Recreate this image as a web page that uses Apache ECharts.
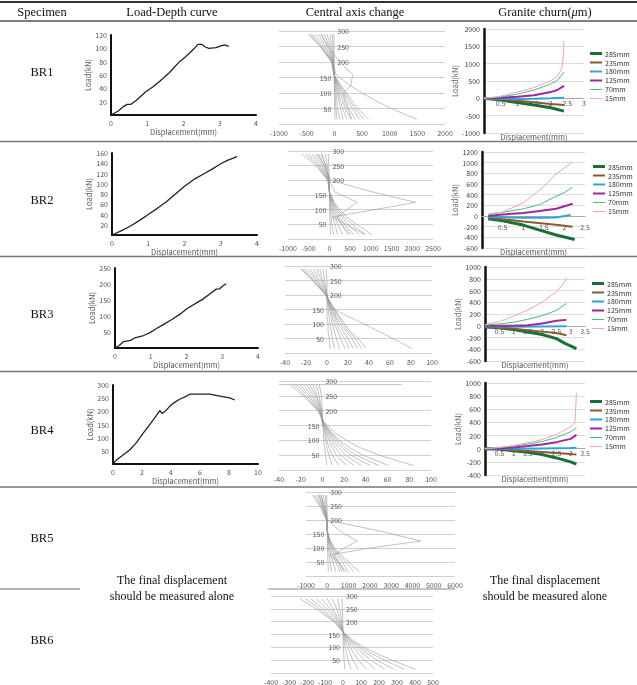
<!DOCTYPE html>
<html>
<head>
<meta charset="utf-8">
<script src="https://cdn.jsdelivr.net/npm/echarts@6/dist/echarts.min.js"></script>
<style>
  html, body { margin: 0; padding: 0; background: #fff; }
  #chart { width: 637px; height: 685px; }
  #chart svg { will-change: transform; }
</style>
</head>
<body>
<div id="chart"></div>
<script>
const specimens = ["BR1", "BR2", "BR3", "BR4", "BR5", "BR6"];
const gaugeNames = ["285mm", "235mm", "180mm", "125mm", "70mm", "15mm"];
const depthLevels = [290, 250, 200, 160, 125, 100, 75, 50, 15];

// load-depth curves: [displacement (mm), load (kN)]
const br1Load = [[0, 0], [0.2, 6], [0.35, 13], [0.45, 16], [0.55, 16], [0.7, 22], [0.96, 35], [1.15, 42], [1.33, 50], [1.6, 63], [1.89, 80], [2.05, 87], [2.17, 93], [2.3, 100], [2.4, 106], [2.5, 106], [2.6, 102], [2.7, 100], [2.9, 101], [3.05, 104], [3.15, 105], [3.25, 103]];
const br2Load = [[0, 0], [0.25, 8], [0.5, 17], [0.75, 28], [1, 40], [1.25, 52], [1.5, 65], [1.75, 80], [2, 95], [2.25, 108], [2.5, 118], [2.75, 128], [3, 139], [3.2, 146], [3.45, 153]];
const br3Load = [[0, 0], [0.12, 8], [0.24, 20], [0.35, 22], [0.43, 24], [0.56, 32], [0.8, 39], [0.98, 48], [1.15, 60], [1.35, 73], [1.6, 90], [1.81, 105], [2, 122], [2.28, 141], [2.45, 152], [2.65, 169], [2.83, 184], [2.93, 185], [3, 193], [3.11, 201]];
const br4Load = [[0, 0], [0.23, 15], [0.6, 30], [1.15, 53], [1.6, 80], [2.07, 116], [2.4, 140], [2.76, 167], [3, 185], [3.22, 203], [3.4, 192], [3.56, 199], [3.8, 212], [4, 224], [4.3, 236], [4.6, 246], [5, 256], [5.3, 265], [6, 265], [6.67, 265], [7.36, 258], [8.05, 251], [8.4, 243]];
const loadXMax = [4, 4, 4, 10];
const loadXStep = [1, 1, 1, 2];
const loadYMax = [120, 160, 250, 300];
const loadYStep = [20, 20, 50, 50];

// central axis change: displacement at each of depthLevels, one row per reading
const br1Axis = [
  [-470, -260, -50, -10, 120, 220, 320, 420, 620],
  [-410, -225, -45, -10, 100, 190, 280, 370, 540],
  [-350, -190, -40, -8, 85, 160, 240, 320, 460],
  [-290, -160, -35, -6, 70, 130, 200, 260, 380],
  [-230, -125, -30, -5, 55, 100, 150, 200, 300],
  [-180, -95, -25, -4, 40, 75, 110, 150, 230],
  [-130, -70, -20, -3, 30, 55, 80, 110, 160],
  [-80, -45, -15, -2, 15, 30, 45, 60, 100],
  [-40, -20, -10, -1, 5, 12, 20, 30, 45],
  [-10, -5, -3, 0, 0, 3, 5, 8, 12],
  [-250, -110, 100, 330, 300, 170, 180, 240, 320],
  [-440, -240, -40, 30, 280, 500, 750, 1030, 1490]
];
const br2Axis = [
  [-660, -330, -40, 0, 120, 250, 420, 650, 1030],
  [-580, -290, -35, 0, 100, 210, 350, 550, 870],
  [-500, -250, -30, 0, 85, 175, 290, 450, 720],
  [-420, -210, -25, 0, 70, 140, 230, 360, 580],
  [-340, -170, -20, 0, 55, 110, 180, 280, 450],
  [-260, -130, -15, 0, 40, 80, 130, 200, 320],
  [-180, -90, -10, 0, 25, 50, 85, 130, 200],
  [-100, -50, -5, 0, 12, 25, 40, 60, 100],
  [-30, -15, -2, 0, 3, 6, 10, 15, 25],
  [-300, -120, 30, 1050, 2080, 1090, 70, 400, 850],
  [-200, -90, 0, 130, 670, 420, 180, 300, 500]
];
const br3Axis = [
  [-25, -14, -1, 6, 12, 17, 22, 30, 37],
  [-22, -12, -1, 5, 11, 15, 20, 27, 33],
  [-19, -10, -1, 5, 9, 13, 18, 24, 29],
  [-16, -9, -1, 4, 8, 11, 15, 20, 25],
  [-13, -7, 0, 3, 7, 9, 12, 17, 21],
  [-10, -5, 0, 3, 5, 7, 10, 13, 17],
  [-7, -4, 0, 2, 4, 5, 7, 9, 12],
  [-4, -2, 0, 1, 2, 3, 4, 5, 7],
  [-1, 0, 0, 0, 0, 1, 1, 2, 3],
  [-24, -13, -1, 2, 21, 35, 49, 63, 81]
];
const br4Axis = [
  [-30, -18, -4, 2, 12, 22, 35, 52, 84],
  [-27, -16, -4, 1, 9, 16, 25, 37, 61],
  [-24, -14, -3, 1, 8, 14, 21, 31, 52],
  [-21, -12, -3, 1, 7, 12, 18, 26, 44],
  [-18, -10, -2, 1, 6, 10, 15, 21, 36],
  [-15, -8, -2, 0, 5, 8, 12, 17, 29],
  [-12, -6, -1, 0, 4, 6, 9, 13, 22],
  [-9, -5, -1, 0, 3, 4, 6, 9, 15],
  [-6, -3, -1, 0, 2, 3, 4, 6, 9],
  [-3, -1, 0, 0, 1, 1, 2, 3, 4]
];
const br5Axis = [
  [-700, -350, -40, 0, 150, 350, 650, 1000, 1500],
  [-600, -300, -35, 0, 130, 300, 550, 850, 1250],
  [-500, -250, -30, 0, 110, 250, 450, 700, 1000],
  [-400, -200, -25, 0, 90, 200, 350, 550, 800],
  [-300, -150, -20, 0, 70, 150, 260, 400, 600],
  [-200, -100, -15, 0, 50, 100, 170, 260, 400],
  [-100, -50, -10, 0, 25, 50, 90, 130, 200],
  [-30, -15, -3, 0, 5, 10, 20, 30, 50],
  [-400, -200, 0, 2500, 4400, 2000, 100, 500, 900],
  [-300, -150, 0, 600, 1400, 800, 300, 500, 700]
];
const br6Axis = [
  [-240, -150, -50, 0, 60, 120, 190, 270, 400],
  [-210, -130, -45, 0, 50, 100, 160, 230, 340],
  [-180, -110, -40, 0, 40, 85, 135, 190, 280],
  [-150, -90, -30, 0, 35, 70, 110, 155, 230],
  [-120, -70, -25, 0, 25, 55, 85, 120, 180],
  [-90, -55, -20, 0, 20, 40, 60, 85, 130],
  [-60, -35, -12, 0, 12, 25, 40, 55, 85],
  [-30, -18, -6, 0, 6, 12, 20, 28, 45],
  [-5, -3, -1, 0, 1, 2, 4, 6, 10]
];
const br4AxisTop = [[-40, 288], [73, 288]];
const axisXMin = [-1000, -1000, -40, -40, -1000, -400];
const axisXMax = [2000, 2500, 100, 100, 6000, 500];
const axisXStep = [500, 500, 20, 20, 1000, 100];

// granite churn: one list per gauge depth, [displacement (mm), value]
const br1Churn = [
  [[0, 0], [0.5, -50], [1, -120], [1.5, -190], [2, -270], [2.4, -370]],
  [[0, 0], [0.5, -30], [1, -70], [1.5, -115], [2, -160], [2.4, -195]],
  [[0, 0], [0.5, -10], [1, -20], [1.5, -15], [2, 0], [2.4, 20]],
  [[0, 0], [0.5, 20], [1, 45], [1.5, 90], [2, 180], [2.2, 240], [2.4, 360]],
  [[0, 0], [0.5, 40], [1, 120], [1.5, 240], [2, 410], [2.2, 520], [2.4, 760]],
  [[0, 0], [0.5, 60], [1, 180], [1.5, 310], [2, 500], [2.2, 650], [2.3, 800], [2.35, 950], [2.38, 1250], [2.4, 1650]]
];
const br2Churn = [
  [[0.15, -50], [0.5, -90], [1, -170], [1.4, -265], [1.8, -357], [2.25, -440]],
  [[0.15, -30], [0.5, -60], [1, -105], [1.8, -166], [2.2, -200]],
  [[0.15, -20], [1, -35], [1.5, -35], [1.8, -30], [2.15, 20]],
  [[0.15, 0], [0.5, 30], [1, 55], [1.4, 92], [1.8, 135], [2.2, 230]],
  [[0.15, 20], [0.5, 70], [1, 135], [1.4, 215], [1.8, 370], [2, 440], [2.2, 540]],
  [[0.15, 40], [0.5, 75], [1, 245], [1.3, 430], [1.5, 550], [1.77, 770], [2, 900], [2.2, 1010]]
];
const br3Churn = [
  [[0, -20], [0.5, -35], [1, -65], [1.5, -105], [2, -150], [2.5, -220], [2.8, -300], [3.2, -390]],
  [[0, -20], [0.5, -30], [1, -50], [1.5, -75], [2, -100], [2.5, -125], [2.85, -160]],
  [[0, -10], [1, -15], [2, -12], [2.85, -10]],
  [[0, 0], [1, 0], [1.5, 10], [2, 40], [2.5, 85], [2.85, 100]],
  [[0, 10], [0.5, 30], [1, 60], [1.5, 110], [2, 170], [2.5, 260], [2.85, 380]],
  [[0, 20], [0.5, 70], [1, 160], [1.5, 270], [2, 400], [2.5, 580], [2.75, 720], [2.86, 820]]
];
const br4Churn = [
  [[0, 0], [0.5, -10], [1, -30], [1.5, -55], [2, -90], [2.5, -140], [3, -200], [3.2, -235]],
  [[0, 0], [0.5, -5], [1, -20], [1.5, -35], [2, -50], [2.5, -65], [3, -80], [3.2, -90]],
  [[0, 0], [1, 0], [2, 5], [3, 10], [3.2, 15]],
  [[0, 0], [0.5, 5], [1, 20], [1.5, 40], [2, 65], [2.5, 100], [3, 150], [3.2, 210]],
  [[0, 0], [0.5, 15], [1, 40], [1.5, 70], [2, 110], [2.5, 170], [3, 260], [3.2, 320]],
  [[0, 0], [0.5, 20], [1, 50], [1.5, 90], [2, 140], [2.5, 220], [3, 330], [3.15, 400], [3.2, 850]]
];
const churnXMax = [3, 2.5, 3.5, 3.5];
const churnYMin = [-1000, -600, -600, -400];
const churnYMax = [2000, 1200, 1000, 1000];
const churnYStep = [500, 200, 200, 200];

// layout (px): [left, top, width, height]
const loadBoxes = [[111, 35, 145, 80], [112, 153, 145, 82], [115, 268, 143, 80], [113, 385, 145, 79]];
const axisBoxes = [[279, 31, 166, 93], [288, 151, 145, 88], [285, 266, 147, 87], [279, 381, 152, 89], [306, 492, 149, 84], [271, 596, 162, 79]];
const churnBoxes = [[484, 29, 100, 104], [482, 152, 103, 96], [485, 267, 100, 94], [485, 383, 100, 92]];
const churnLabelMargin = [1, 7, 2, 1];
const legendPos = [[590, 50], [593, 163], [592, 280], [590, 398]];
const gaugeColors = ["#17703a", "#8a5a2e", "#2ba6de", "#a3249f", "#40bf80", "#f4a3b6"];
const gaugeWidths = [3, 2, 2, 2, 1, 1];
const legendBars = [3, 2.2, 2.2, 2.2, 1, 1];

const SANS = "'Noto Sans CJK KR', 'Noto Sans', sans-serif";
const SERIF = "'Liberation Serif', 'DejaVu Serif', serif";
const plain = (v) => String(v);
const tick = { fontSize: 7, color: "#555", fontFamily: SANS, formatter: plain };

const option = {
  animation: false,
  textStyle: { fontFamily: SANS },
  grid: [], xAxis: [], yAxis: [], series: [], legend: [], graphic: []
};

function addGrid(box) {
  option.grid.push({ left: box[0], top: box[1], width: box[2], height: box[3], containLabel: false });
  return option.grid.length - 1;
}

function addLoadChart(i, curve) {
  const g = addGrid(loadBoxes[i]);
  const xi = option.xAxis.length;
  const yi = option.yAxis.length;
  option.xAxis.push({
    gridIndex: g, type: "value", min: 0, max: loadXMax[i], interval: loadXStep[i],
    axisLine: { onZero: false, lineStyle: { color: "#111", width: 2 } }, axisTick: { show: false },
    splitLine: { show: false }, axisLabel: { ...tick, margin: 4 },
    name: "Displacement(mm)", nameLocation: "middle", nameGap: 13,
    nameTextStyle: { fontSize: 7.5, color: "#555" }
  });
  option.yAxis.push({
    gridIndex: g, type: "value", min: 0, max: loadYMax[i], interval: loadYStep[i],
    axisLine: { onZero: false, lineStyle: { color: "#111", width: 2 } }, axisTick: { show: false },
    splitLine: { show: false }, axisLabel: { ...tick, margin: 4, showMinLabel: false },
    name: "Load(kN)", nameLocation: "middle", nameGap: 17, nameRotate: 90,
    nameTextStyle: { fontSize: 7.5, color: "#555" }
  });
  option.series.push({
    type: "line", xAxisIndex: xi, yAxisIndex: yi, data: curve, symbol: "none",
    lineStyle: { color: "#222", width: 1.3 }, silent: true
  });
}

function addAxisChart(i, rows, extra) {
  const box = axisBoxes[i];
  const g = addGrid(box);
  const xi = option.xAxis.length;
  const yi = option.yAxis.length;
  // put the depth axis on the zero displacement line
  const zeroShift = -box[2] * (0 - axisXMin[i]) / (axisXMax[i] - axisXMin[i]);
  option.xAxis.push({
    gridIndex: g, type: "value", min: axisXMin[i], max: axisXMax[i], interval: axisXStep[i],
    axisLine: { show: false, onZero: false }, axisTick: { show: false }, splitLine: { show: false },
    axisLabel: { ...tick, margin: 5 }
  });
  const yBase = {
    gridIndex: g, type: "value", min: 0, max: 300, interval: 50, position: "left", offset: zeroShift,
    axisLine: { show: false, onZero: false }, axisTick: { show: false }
  };
  option.yAxis.push({
    ...yBase,
    splitLine: { lineStyle: { color: "#cfcfcf", width: 1 } },
    axisLabel: { ...tick, margin: 3, formatter: (v) => (v > 0 && v <= 150 ? String(v) : "") }
  });
  option.yAxis.push({
    ...yBase,
    splitLine: { show: false },
    axisLabel: { ...tick, inside: true, margin: 3, formatter: (v) => (v >= 200 ? String(v) : "") }
  });
  rows.forEach((xs) => {
    option.series.push({
      type: "line", xAxisIndex: xi, yAxisIndex: yi, symbol: "none", silent: true,
      data: xs.map((x, k) => [x, depthLevels[k]]),
      lineStyle: { color: "#999", width: 0.6 }
    });
  });
  if (extra) {
    option.series.push({
      type: "line", xAxisIndex: xi, yAxisIndex: yi, symbol: "none", silent: true,
      data: extra, lineStyle: { color: "#b4b4b4", width: 0.8 }
    });
  }
}

function legendIcon(w) {
  const t = (6 - w) / 2;
  return `path://M0,0h12v0.01h-12z M0,${t}h12v${w}h-12z M0,5.99h12v0.01h-12z`;
}

function addChurnChart(i, lines) {
  const box = churnBoxes[i];
  const g = addGrid(box);
  const xi = option.xAxis.length;
  const yi = option.yAxis.length;
  const zeroShift = -box[3] * (0 - churnYMin[i]) / (churnYMax[i] - churnYMin[i]);
  option.xAxis.push({
    gridIndex: g, type: "value", min: 0, max: churnXMax[i], interval: 0.5, position: "bottom", offset: zeroShift,
    axisLine: { onZero: false, lineStyle: { color: "#aaa", width: 1 } },
    axisTick: { show: false }, splitLine: { show: false },
    axisLabel: { ...tick, margin: churnLabelMargin[i], formatter: (v) => (v === 0 ? "" : String(v)) }
  });
  option.xAxis.push({
    gridIndex: g, type: "value", min: 0, max: churnXMax[i], position: "bottom",
    axisLine: { show: false, onZero: false }, axisTick: { show: false },
    axisLabel: { show: false }, splitLine: { show: false },
    name: "Displacement(mm)", nameLocation: "middle", nameGap: 3,
    nameTextStyle: { fontSize: 7.5, color: "#555", verticalAlign: "middle" }
  });
  option.yAxis.push({
    gridIndex: g, type: "value", min: churnYMin[i], max: churnYMax[i], interval: churnYStep[i],
    axisLine: { onZero: false, lineStyle: { color: "#111", width: 2.5 } }, axisTick: { show: false },
    splitLine: { lineStyle: { color: "#dedede", width: 1 } },
    axisLabel: { ...tick, color: "#444", margin: 4 },
    name: "Load(kN)", nameLocation: "middle", nameGap: 11, nameRotate: 90,
    nameTextStyle: { fontSize: 7.5, color: "#666" }
  });
  lines.forEach((pts, k) => {
    option.series.push({
      name: gaugeNames[k], type: "line", xAxisIndex: xi, yAxisIndex: yi, symbol: "none",
      data: pts, color: gaugeColors[k], silent: true,
      lineStyle: { color: gaugeColors[k], width: gaugeWidths[k] }
    });
  });
  option.legend.push({
    data: gaugeNames.map((n, k) => ({ name: n, icon: legendIcon(legendBars[k]) })),
    orient: "vertical", left: legendPos[i][0], top: legendPos[i][1],
    itemWidth: 12, itemHeight: 6, itemGap: 2, padding: 0, selectedMode: false,
    itemStyle: { borderWidth: 0 },
    textStyle: { fontSize: 7, color: "#333", fontFamily: SANS, padding: [0, 0, 0, -2] }
  });
}

[br1Load, br2Load, br3Load, br4Load].forEach((c, i) => addLoadChart(i, c));
[br1Axis, br2Axis, br3Axis, br4Axis, br5Axis, br6Axis].forEach((rows, i) => addAxisChart(i, rows, i === 3 ? br4AxisTop : null));
[br1Churn, br2Churn, br3Churn, br4Churn].forEach((l, i) => addChurnChart(i, l));

// table frame and cell text
function rule(x1, x2, y, width, color) {
  option.graphic.push({ type: "line", shape: { x1, y1: y, x2, y2: y }, style: { stroke: color, lineWidth: width }, silent: true });
}
function label(text, x, y, size, rich) {
  option.graphic.push({
    type: "text", x, y, silent: true,
    style: { text, fill: "#111", fontSize: size, fontFamily: SERIF, align: "center", verticalAlign: "middle", rich: rich || undefined, lineHeight: 16 }
  });
}
rule(0, 637, 2, 2, "#333");
rule(0, 637, 21, 1.6, "#555");
[141.5, 256.5, 371.5, 487].forEach((y) => rule(0, 637, y, 1.6, "#777"));
rule(0, 80, 589, 1, "#666");
rule(268, 455, 589, 1, "#888");

label("Specimen", 42, 12, 12.5);
label("Load-Depth curve", 172, 12, 12.5);
label("Central axis change", 355, 12, 12.5);
label("{a|Granite churn(}{i|μ}{a|m)}", 545, 12, 12.5, {
  a: { fontSize: 12.5, fontFamily: SERIF, fill: "#111" },
  i: { fontSize: 12.5, fontFamily: SERIF, fill: "#111", fontStyle: "italic" }
});
const rowY = [72, 200, 314, 430, 538, 640];
specimens.forEach((s, i) => label(s, 42, rowY[i], 12.5));
label("The final displacement\nshould be measured alone", 172, 588, 12);
label("The final displacement\nshould be measured alone", 545, 588, 12);

const chart = echarts.init(document.getElementById("chart"), null, { renderer: "svg" });
chart.setOption(option);
</script>
</body>
</html>
